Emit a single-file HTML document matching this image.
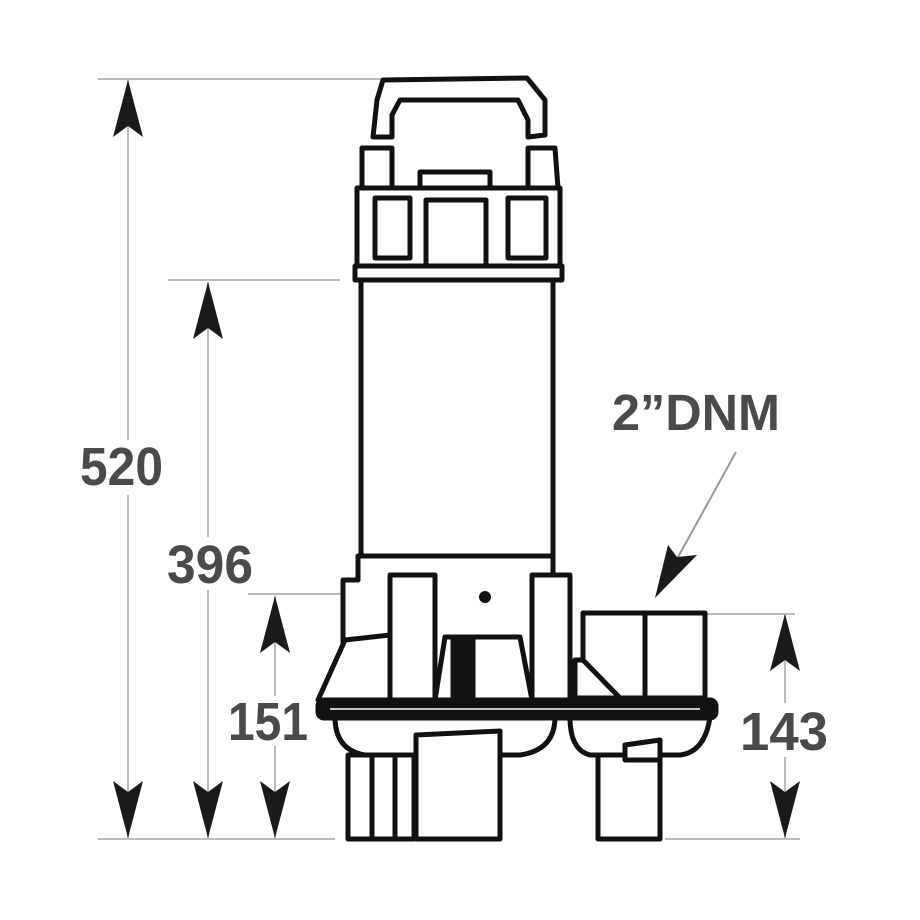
<!DOCTYPE html>
<html><head><meta charset="utf-8"><style>
html,body{margin:0;padding:0;background:#fff}
svg{display:block}
text{font-family:"Liberation Sans",sans-serif;font-weight:bold;fill:#4a4a4a}
</style></head><body>
<svg width="920" height="920" viewBox="0 0 920 920" xmlns="http://www.w3.org/2000/svg">
<g stroke="#bbb" stroke-width="2" fill="none">
<line x1="98" y1="79" x2="388" y2="79"/>
<line x1="168" y1="280" x2="340" y2="280"/>
<line x1="248" y1="594" x2="375" y2="594"/>
<line x1="665" y1="614" x2="795" y2="614"/>
<line x1="98" y1="839" x2="335" y2="839"/>
<line x1="665" y1="839" x2="800" y2="839"/>
<line x1="128" y1="80" x2="128" y2="440"/><line x1="128" y1="495" x2="128" y2="838"/>
<line x1="208" y1="282" x2="208" y2="537"/><line x1="208" y1="590" x2="208" y2="838"/>
<line x1="275" y1="596" x2="275" y2="696"/><line x1="275" y1="746" x2="275" y2="838"/>
<line x1="785" y1="614" x2="785" y2="703"/><line x1="785" y1="757" x2="785" y2="838"/>
<line x1="736" y1="452" x2="672" y2="568" stroke="#999"/>
</g>
<g fill="#1a1a1a">
<path d="M128 80 L143 137 L128 126 L113 137Z"/>
<path d="M128 838 L143 781 L128 792 L113 781Z"/>
<path d="M208 282 L223 339 L208 328 L193 339Z"/>
<path d="M208 838 L223 781 L208 792 L193 781Z"/>
<path d="M275 596 L290 653 L275 642 L260 653Z"/>
<path d="M275 838 L290 781 L275 792 L260 781Z"/>
<path d="M785 614 L800 671 L785 660 L770 671Z"/>
<path d="M785 838 L800 781 L785 792 L770 781Z"/>
<path d="M655 598 L668 545 L677 557 L697 555Z"/>
</g>
<text x="80" y="485" font-size="54" textLength="83" lengthAdjust="spacingAndGlyphs">520</text>
<text x="167" y="583" font-size="54" textLength="86" lengthAdjust="spacingAndGlyphs">396</text>
<text x="228" y="740" font-size="54" textLength="80" lengthAdjust="spacingAndGlyphs">151</text>
<text x="740" y="750" font-size="54" textLength="88" lengthAdjust="spacingAndGlyphs">143</text>
<text x="612" y="430" font-size="51" textLength="168" lengthAdjust="spacingAndGlyphs">2”DNM</text>

<g stroke="#111" stroke-width="5" fill="#fff" stroke-linejoin="round">
<!-- handle -->
<path d="M383 80 L527 78 L545 100 L545 135 L528 137 L528 120 L518 100 L400 100 L392 115 L392 137 L373 137 L377 100Z"/>
<!-- shoulders -->
<path d="M362 148 L392 148 L392 188 L362 188Z"/>
<path d="M528 148 L555 148 L558 188 L528 188Z"/>
<rect x="420" y="172" width="70" height="18"/>
<!-- cap block -->
<rect x="357" y="188" width="203" height="80"/>
<rect x="375" y="198" width="35" height="60"/>
<rect x="508" y="198" width="38" height="60"/>
<rect x="426" y="200" width="60" height="68"/>
<rect x="355" y="266" width="207" height="14"/>
<!-- motor body -->
<rect x="361" y="280" width="192" height="276"/>
<!-- lower housing -->
<path d="M343 580 L358 580 L358 556 L553 556 L553 580 L570 580 L570 700 L343 700Z"/>
<rect x="390" y="575" width="45" height="125"/>
<rect x="532" y="575" width="38" height="125"/>
<path d="M318 700 L345 640 L390 635 L390 700Z"/>
<path d="M435 700 L445 637 L520 637 L532 700Z"/>
<rect x="453" y="637" width="20" height="63" fill="#111"/>
<!-- discharge box -->
<rect x="583" y="613" width="122" height="85"/>
<line x1="645" y1="613" x2="645" y2="698"/>
<path d="M575 660 L583 660 L620 698 L575 698Z"/>
<!-- bowls -->
<path d="M335 717 L555 717 Q555 750 520 755 L365 755 Q335 750 335 717Z"/>
<path d="M570 717 L710 717 Q705 752 680 755 L590 755 Q570 750 570 717Z"/>
<!-- flange plate -->
<rect x="318" y="700" width="398" height="18" rx="6" fill="#111"/>
<line x1="330" y1="709" x2="700" y2="709" stroke="#fff" stroke-width="1.5"/>
<!-- feet -->
<rect x="348" y="755" width="66" height="84"/>
<line x1="372" y1="755" x2="372" y2="839"/>
<line x1="395" y1="755" x2="395" y2="839"/>
<path d="M416 735 L500 731 L500 839 L416 839Z"/>
<rect x="598" y="755" width="62" height="84"/>
<path d="M625 745 L660 740 L660 760 L625 760Z"/>
</g>
<circle cx="485" cy="597" r="6" fill="#111"/>
</svg>
</body></html>
